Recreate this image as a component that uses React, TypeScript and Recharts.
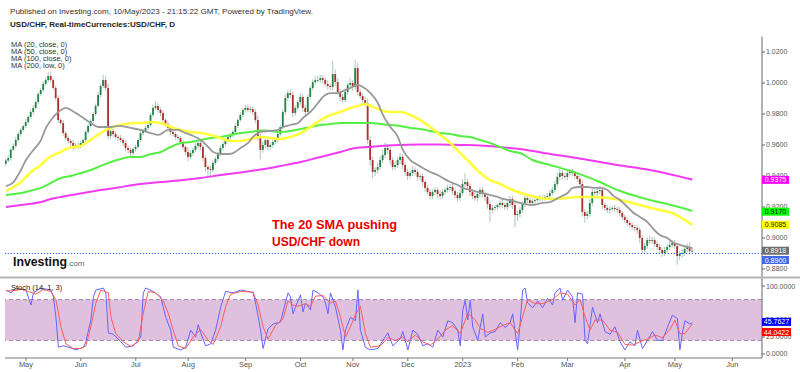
import React from "react";
import {
  ComposedChart,
  Bar,
  Line,
  XAxis,
  YAxis,
  ReferenceLine,
  ReferenceArea
} from "recharts";

// daily USD/CHF candles, 20 Apr 2022 .. 10 May 2023 (trading-day index)
const firstOpen = 0.9478;
const closes = [
  0.95, 0.9516, 0.957, 0.9594, 0.9632, 0.9671, 0.9697, 0.9722, 0.9748, 0.9781,
  0.9813, 0.9839, 0.9877, 0.9929, 0.9955, 0.9994, 1.0019, 1.0045, 1.0019, 0.9968,
  0.9903, 0.9761, 0.9742, 0.9677, 0.9645, 0.9626, 0.9613, 0.9587, 0.96, 0.9594,
  0.9613, 0.9632, 0.9684, 0.9723, 0.9755, 0.98, 0.9852, 0.9923, 0.9981, 1.0019,
  0.9968, 0.9658, 0.969, 0.9671, 0.9652, 0.9645, 0.9632, 0.9613, 0.9581, 0.9568,
  0.9548, 0.9574, 0.9587, 0.9632, 0.9677, 0.969, 0.971, 0.9729, 0.9794, 0.9839,
  0.9852, 0.9826, 0.9806, 0.9761, 0.9735, 0.971, 0.9684, 0.9671, 0.9652, 0.9645,
  0.9619, 0.9587, 0.9555, 0.9523, 0.9548, 0.9568, 0.9594, 0.9613, 0.9587, 0.9516,
  0.9458, 0.9445, 0.9439, 0.9484, 0.951, 0.9542, 0.9581, 0.9606, 0.9632, 0.9652,
  0.9665, 0.9684, 0.9723, 0.9761, 0.9794, 0.9826, 0.9839, 0.9826, 0.9832, 0.9813,
  0.9761, 0.9652, 0.9568, 0.96, 0.9632, 0.9587, 0.96, 0.9619, 0.9632, 0.9671,
  0.9716, 0.9813, 0.9903, 0.9935, 0.9923, 0.9806, 0.9839, 0.9877, 0.991, 0.9839,
  0.9813, 0.991, 0.9968, 1.0006, 1.0019, 1.0019, 1.0032, 1.0019, 0.9994, 0.9981,
  0.9974, 1.0058, 1.0006, 0.9942, 0.991, 0.989, 0.9942, 0.9987, 1.0, 0.9974,
  1.0097, 0.9942, 0.9916, 0.989, 0.9871, 0.9632, 0.9503, 0.9426, 0.9439, 0.9458,
  0.9503, 0.9535, 0.9581, 0.9568, 0.9503, 0.9458, 0.9471, 0.9503, 0.9523, 0.9471,
  0.9426, 0.94, 0.9419, 0.9439, 0.9426, 0.9394, 0.94, 0.9361, 0.9323, 0.9297,
  0.9271, 0.9297, 0.931, 0.9284, 0.9271, 0.9297, 0.931, 0.9323, 0.9329, 0.9303,
  0.9277, 0.9258, 0.929, 0.9348, 0.9361, 0.9335, 0.9297, 0.9271, 0.9258, 0.9284,
  0.931, 0.9284, 0.9265, 0.9219, 0.9181, 0.9194, 0.92, 0.9213, 0.9226, 0.9213,
  0.92, 0.9226, 0.9252, 0.9213, 0.9148, 0.9155, 0.9181, 0.9219, 0.9258, 0.9245,
  0.9226, 0.9239, 0.9245, 0.9252, 0.9258, 0.9258, 0.9265, 0.9271, 0.929, 0.931,
  0.9348, 0.9394, 0.9419, 0.94, 0.9394, 0.9419, 0.9426, 0.9419, 0.94, 0.9381,
  0.9348, 0.9168, 0.9142, 0.9155, 0.9226, 0.9297, 0.929, 0.9303, 0.931, 0.9213,
  0.9194, 0.9181, 0.9187, 0.9194, 0.9187, 0.9181, 0.9161, 0.9135, 0.9116, 0.9097,
  0.9084, 0.9071, 0.9065, 0.9052, 0.9, 0.8923, 0.8948, 0.8987, 0.8981, 0.8987,
  0.8961, 0.8942, 0.8923, 0.8903, 0.8923, 0.8942, 0.8955, 0.8968, 0.8948, 0.8884,
  0.8897, 0.8903, 0.8929, 0.8942, 0.8916, 0.8918
];
// wick lengths beyond the body, in pips
const wickUp = [
  12, 18, 10, 15, 20, 12, 14, 10, 18, 12, 15, 20, 10, 14, 12, 18, 16, 25, 22, 15,
  14, 18, 15, 20, 12, 16, 14, 22, 15, 18, 12, 10, 14, 16, 12, 10, 15, 18, 12, 33,
  25, 30, 20, 15, 18, 12, 20, 15, 18, 14, 16, 12, 14, 10, 18, 15, 12, 20, 14, 22,
  30, 18, 15, 20, 12, 16, 14, 18, 12, 15, 14, 16, 12, 28, 20, 15, 18, 25, 20, 14,
  16, 12, 18, 15, 14, 12, 16, 18, 12, 14, 15, 12, 16, 14, 18, 15, 20, 22, 18, 16,
  18, 30, 20, 22, 14, 18, 16, 15, 14, 12, 14, 16, 22, 18, 25, 20, 16, 14, 22, 18,
  20, 16, 14, 18, 25, 28, 22, 20, 18, 24, 15, 85, 30, 25, 20, 18, 22, 16, 30, 20,
  50, 35, 20, 18, 22, 30, 25, 20, 18, 30, 22, 32, 35, 25, 18, 20, 22, 18, 25, 20,
  18, 20, 15, 22, 18, 20, 16, 18, 14, 20, 18, 16, 20, 15, 22, 18, 16, 20, 18, 22,
  16, 20, 25, 30, 58, 20, 16, 18, 22, 20, 18, 20, 16, 22, 18, 20, 16, 15, 18, 20,
  16, 22, 20, 18, 20, 22, 18, 16, 25, 20, 18, 16, 20, 15, 18, 16, 14, 18, 20, 22,
  20, 25, 28, 20, 22, 25, 18, 20, 16, 18, 20, 22, 18, 20, 25, 22, 18, 20, 25, 18,
  16, 20, 18, 15, 20, 16, 18, 14, 16, 18, 15, 16, 14, 18, 16, 20, 22, 18, 25, 20,
  18, 16, 20, 18, 22, 20, 25, 18, 20, 22, 18, 25, 20, 22, 28, 15
];
const wickDown = [
  15, 12, 18, 10, 14, 12, 16, 10, 12, 14, 12, 15, 10, 14, 12, 16, 10, 14, 18, 12,
  16, 20, 14, 18, 16, 15, 20, 18, 14, 22, 16, 14, 12, 15, 10, 14, 12, 10, 16, 14,
  18, 22, 16, 18, 14, 20, 16, 18, 22, 20, 24, 18, 16, 14, 12, 15, 10, 14, 12, 16,
  14, 18, 20, 16, 18, 14, 20, 16, 18, 15, 18, 20, 22, 28, 16, 18, 14, 16, 20, 22,
  30, 45, 40, 18, 14, 16, 12, 15, 14, 16, 14, 16, 12, 14, 10, 15, 18, 16, 20, 18,
  22, 25, 60, 18, 20, 25, 18, 16, 15, 18, 14, 12, 16, 20, 18, 28, 18, 16, 20, 25,
  22, 18, 16, 14, 18, 15, 20, 22, 18, 24, 20, 22, 25, 20, 28, 18, 16, 20, 22, 25,
  18, 22, 20, 18, 22, 25, 35, 40, 25, 22, 18, 20, 22, 25, 30, 22, 18, 20, 25, 28,
  22, 25, 18, 20, 22, 25, 20, 22, 25, 20, 22, 18, 20, 25, 22, 18, 20, 16, 22, 25,
  20, 22, 18, 16, 20, 22, 25, 20, 18, 22, 20, 22, 25, 30, 80, 22, 20, 18, 22, 20,
  22, 18, 20, 25, 78, 40, 22, 18, 20, 22, 20, 18, 22, 16, 18, 20, 18, 16, 14, 16,
  18, 16, 20, 22, 18, 20, 16, 22, 18, 20, 25, 30, 45, 22, 18, 20, 16, 20, 22, 25,
  20, 18, 22, 16, 20, 18, 22, 20, 18, 22, 20, 18, 22, 25, 30, 25, 22, 18, 20, 22,
  18, 20, 22, 25, 20, 18, 22, 20, 18, 55, 25, 22, 18, 20, 22, 15
];

// moving averages: [trading-day index, value]
const ma20 = [
  [0, 0.9335], [3, 0.9361], [6, 0.9439], [8, 0.9503], [11, 0.9568], [14, 0.9632], [16, 0.971],
  [19, 0.9781], [22, 0.9826], [24, 0.9839], [26, 0.9826], [28, 0.9806], [31, 0.9774], [34, 0.9742],
  [37, 0.9716], [42, 0.9716], [45, 0.9723], [50, 0.971], [54, 0.9697], [58, 0.9677], [61, 0.9665],
  [65, 0.9697], [69, 0.9697], [71, 0.9684], [74, 0.9665], [78, 0.9632], [81, 0.9587], [83, 0.9555],
  [86, 0.9542], [89, 0.9542], [91, 0.9548], [94, 0.9581], [97, 0.9613], [99, 0.9652], [102, 0.9684],
  [105, 0.969], [109, 0.9697], [111, 0.9716], [114, 0.9729], [117, 0.9742], [119, 0.9774], [122, 0.9813],
  [125, 0.9871], [127, 0.991], [130, 0.9935], [133, 0.9935], [135, 0.9948], [138, 0.9968], [141, 0.9987],
  [143, 0.9974], [146, 0.9935], [149, 0.9871], [151, 0.9794], [154, 0.9716], [157, 0.9652], [159, 0.9568],
  [162, 0.9503], [165, 0.9471], [167, 0.9452], [170, 0.9426], [173, 0.9406], [175, 0.9387], [178, 0.9361],
  [181, 0.9342], [183, 0.9323], [186, 0.931], [189, 0.9297], [191, 0.929], [194, 0.9277], [197, 0.9265],
  [199, 0.9252], [202, 0.9245], [206, 0.9226], [211, 0.9213], [215, 0.9226], [218, 0.9232], [222, 0.9265],
  [225, 0.929], [227, 0.9323], [230, 0.9329], [233, 0.9329], [235, 0.9323], [238, 0.9323], [241, 0.931],
  [243, 0.9277], [246, 0.9245], [249, 0.92], [251, 0.9168], [254, 0.9135], [257, 0.9103], [259, 0.9065],
  [262, 0.9019], [265, 0.9], [267, 0.8974], [270, 0.8955], [273, 0.8942], [275, 0.8935]
];
const ma50 = [
  [0, 0.9303], [3, 0.9329], [6, 0.9361], [8, 0.9394], [11, 0.9439], [14, 0.9471], [16, 0.9503],
  [19, 0.9535], [22, 0.9555], [24, 0.9574], [27, 0.9587], [30, 0.9594], [32, 0.9613], [35, 0.9645],
  [38, 0.9677], [40, 0.9697], [43, 0.9716], [46, 0.9729], [48, 0.9735], [51, 0.9742], [54, 0.9742],
  [58, 0.9748], [62, 0.9742], [66, 0.9716], [70, 0.9697], [74, 0.9684], [78, 0.9677], [82, 0.9665],
  [86, 0.9645], [90, 0.9626], [94, 0.9626], [98, 0.9639], [102, 0.9652], [106, 0.9645], [110, 0.9639],
  [114, 0.9652], [118, 0.9677], [122, 0.9716], [126, 0.9761], [130, 0.9794], [134, 0.9813], [138, 0.9839],
  [141, 0.9852], [144, 0.9865], [147, 0.9845], [150, 0.9826], [154, 0.9813], [158, 0.9813], [162, 0.9794],
  [166, 0.9761], [170, 0.9716], [174, 0.9665], [178, 0.9613], [182, 0.9548], [186, 0.9484], [190, 0.9419],
  [194, 0.9374], [198, 0.9348], [203, 0.931], [209, 0.9277], [214, 0.9258], [219, 0.9252], [225, 0.9258],
  [230, 0.9265], [235, 0.9265], [241, 0.9258], [246, 0.9245], [251, 0.9226], [257, 0.92], [262, 0.9181],
  [267, 0.9161], [271, 0.9125], [275, 0.9085]
];
const ma100 = [
  [0, 0.9277], [6, 0.929], [11, 0.931], [14, 0.9323], [18, 0.9355], [22, 0.9387], [26, 0.94],
  [30, 0.9419], [34, 0.9439], [38, 0.9465], [42, 0.949], [46, 0.951], [50, 0.9523], [54, 0.9523],
  [58, 0.9542], [62, 0.9555], [66, 0.9587], [70, 0.9613], [74, 0.9619], [78, 0.9632], [82, 0.9645],
  [86, 0.9652], [90, 0.9665], [94, 0.9677], [98, 0.9684], [102, 0.9694], [106, 0.969], [110, 0.9684],
  [114, 0.969], [118, 0.9703], [122, 0.9716], [126, 0.9729], [130, 0.9735], [134, 0.9742], [138, 0.9742],
  [142, 0.9742], [146, 0.9742], [150, 0.9735], [154, 0.9729], [158, 0.9723], [162, 0.971], [166, 0.9703],
  [170, 0.969], [174, 0.9677], [178, 0.9671], [182, 0.9658], [186, 0.9652], [190, 0.9632], [194, 0.9613],
  [198, 0.9587], [202, 0.9561], [206, 0.9548], [211, 0.9503], [218, 0.9471], [225, 0.9439], [231, 0.9406],
  [238, 0.9361], [245, 0.931], [251, 0.9277], [258, 0.9245], [265, 0.9219], [271, 0.9194], [275, 0.9174]
];
const ma200 = [
  [0, 0.92], [6, 0.9213], [14, 0.9232], [18, 0.9252], [24, 0.9271], [31, 0.929], [38, 0.931],
  [45, 0.9326], [51, 0.9342], [58, 0.9355], [65, 0.9365], [71, 0.9374], [78, 0.9387], [86, 0.9406],
  [94, 0.9423], [102, 0.9442], [110, 0.9465], [118, 0.949], [126, 0.9523], [134, 0.9555], [139, 0.9577],
  [145, 0.9587], [150, 0.9594], [158, 0.96], [166, 0.9603], [174, 0.9603], [182, 0.96], [190, 0.9597],
  [198, 0.9587], [206, 0.9574], [218, 0.9542], [231, 0.951], [245, 0.9471], [258, 0.9439], [275, 0.9377]
];

// stochastic (14, 1, 3): [index, value]
const stochK = [
  [0, 94], [2, 90], [4, 97], [8, 94], [10, 72], [11, 90], [14, 97], [18, 94], [19, 84], [20, 54],
  [21, 10], [23, 12], [26, 9], [28, 6], [31, 10], [32, 18], [34, 50], [35, 84], [36, 94], [39, 97],
  [40, 90], [41, 31], [43, 29], [46, 18], [48, 10], [51, 12], [54, 25], [55, 90], [56, 97], [59, 92],
  [62, 84], [63, 69], [64, 54], [66, 35], [67, 10], [70, 6], [72, 10], [74, 35], [76, 25], [77, 43],
  [78, 31], [80, 12], [82, 15], [84, 35], [86, 69], [88, 92], [91, 90], [94, 94], [97, 92], [99, 90],
  [100, 75], [102, 35], [103, 8], [105, 37], [107, 44], [110, 47], [111, 62], [113, 90], [114, 84], [115, 59],
  [116, 69], [118, 87], [119, 62], [120, 75], [122, 65], [123, 94], [125, 90], [127, 84], [128, 75], [129, 59],
  [130, 90], [132, 69], [134, 35], [135, 6], [136, 35], [138, 54], [140, 49], [141, 94], [142, 35], [144, 10],
  [146, 6], [149, 8], [151, 20], [153, 31], [155, 12], [158, 23], [159, 33], [161, 6], [163, 35], [165, 29],
  [167, 12], [169, 15], [171, 10], [173, 35], [175, 25], [177, 49], [179, 46], [181, 35], [182, 12], [183, 64],
  [184, 79], [185, 50], [186, 79], [187, 40], [189, 20], [191, 59], [192, 25], [194, 31], [196, 33], [198, 46],
  [200, 39], [202, 46], [203, 59], [205, 6], [206, 46], [207, 94], [208, 97], [209, 75], [211, 68], [213, 78],
  [215, 68], [217, 82], [219, 72], [220, 90], [222, 97], [223, 79], [225, 94], [227, 84], [228, 46], [229, 90],
  [231, 88], [232, 20], [233, 15], [235, 69], [237, 46], [238, 59], [240, 33], [242, 29], [244, 40], [246, 18],
  [248, 6], [250, 18], [252, 12], [253, 35], [255, 8], [257, 20], [259, 33], [261, 20], [263, 20], [265, 39],
  [267, 57], [269, 52], [270, 6], [271, 31], [272, 49], [274, 44], [275, 46]
];
const stochD = [
  [0, 93], [3, 93], [6, 95], [9, 92], [12, 88], [15, 95], [18, 92], [20, 80], [22, 40], [24, 15],
  [27, 8], [30, 8], [32, 12], [34, 40], [36, 75], [38, 94], [41, 90], [42, 55], [44, 30], [47, 18],
  [50, 11], [53, 18], [55, 60], [57, 92], [60, 90], [63, 78], [65, 60], [67, 35], [69, 12], [72, 8],
  [75, 25], [78, 36], [81, 20], [83, 14], [86, 40], [88, 70], [90, 88], [94, 92], [99, 91], [101, 72],
  [103, 40], [105, 22], [108, 42], [111, 52], [113, 78], [115, 72], [117, 70], [120, 74], [122, 70], [124, 85],
  [127, 86], [130, 75], [132, 78], [134, 55], [136, 25], [138, 40], [140, 58], [142, 70], [144, 30], [146, 10],
  [150, 12], [153, 24], [156, 20], [159, 25], [161, 18], [164, 28], [167, 18], [170, 13], [173, 22], [176, 35],
  [179, 42], [182, 30], [185, 60], [188, 50], [190, 38], [193, 32], [196, 36], [199, 42], [202, 46], [205, 30],
  [207, 55], [209, 80], [212, 74], [215, 74], [219, 80], [222, 90], [225, 88], [228, 72], [230, 80], [232, 55],
  [234, 35], [236, 50], [239, 50], [242, 35], [245, 32], [248, 14], [251, 13], [254, 18], [257, 22], [260, 28],
  [263, 24], [266, 36], [268, 50], [270, 30], [272, 30], [275, 44]
];

const monthTicks = [8, 30, 52, 73, 96, 118, 139, 161, 183, 205, 225, 248, 268, 291];
const monthLabels = ["May", "Jun", "Jul", "Aug", "Sep", "Oct", "Nov", "Dec", "2023", "Feb", "Mar", "Apr", "May", "Jun"];
const priceTicks = [0.88, 0.9, 0.92, 0.94, 0.96, 0.98, 1.0, 1.02];
const stochTicks = [0, 25, 50, 100];
const maLast = [0.9375, 0.917, 0.9085];
const lastClose = 0.8918;
const levelLine = 0.89;
const stochLast = [45.7627, 44.0422];

const FONT = "'Liberation Sans', Arial, sans-serif";
const X_DOMAIN: [number, number] = [-0.4, 302.9];
const PRICE_DOMAIN: [number, number] = [0.875, 1.03];
const STOCH_DOMAIN: [number, number] = [-5.9, 111.8];
const MAIN_MARGIN = { top: 36.5, right: 0, bottom: 1.25, left: 5 };
const STOCH_MARGIN = { top: 0, right: 0, bottom: 14, left: 5 };

const candles = closes.map((c, i) => {
  const o = i === 0 ? firstOpen : closes[i - 1];
  const high = Math.max(o, c) + wickUp[i] / 10000;
  const low = Math.min(o, c) - wickDown[i] / 10000;
  return { x: i, open: o, close: c, high, low, range: [low, high] };
});

const toPoints = (arr: number[][]) => arr.map(([x, v]) => ({ x, v }));

const Candle = (props: any) => {
  const { x, y, width, height, payload } = props;
  if (!payload) return null;
  const { open, close, high, low } = payload;
  const top = Math.min(y, y + height);
  const h = Math.abs(height);
  const ppu = h / (high - low);
  const cx = x + width / 2;
  const bodyTop = top + (high - Math.max(open, close)) * ppu;
  const bodyH = Math.max(Math.abs(close - open) * ppu, 0.8);
  const up = close >= open;
  return (
    <g>
      <line x1={cx} x2={cx} y1={top} y2={top + h} stroke="#a7bdb1" strokeWidth={0.9} />
      <rect x={cx - 0.9} y={bodyTop} width={1.8} height={bodyH} fill={up ? "#23834a" : "#ae2f2b"} />
    </g>
  );
};

const Tag = (props: any) => {
  const { viewBox, text, bg, fg, dy = 0, w = 27 } = props;
  if (!viewBox) return null;
  const x = viewBox.x + viewBox.width;
  const y = viewBox.y + dy;
  return (
    <g>
      <rect x={x} y={y - 4} width={w} height={8} fill={bg} />
      <text x={x + w / 2} y={y + 2.5} textAnchor="middle" fontSize={7} fill={fg} fontFamily={FONT}>
        {text}
      </text>
    </g>
  );
};

const axisTick = { fontSize: 7, fill: "#555", fontFamily: FONT };

// a transparent chart on top of a pane, used only for the value tags on the axis
const TagLayer = ({ margin, height, domain, children }: any) => (
  <ComposedChart width={800} height={height} margin={margin}>
    <XAxis dataKey="x" type="number" domain={X_DOMAIN} allowDataOverflow hide />
    <YAxis
      orientation="right"
      width={38}
      domain={domain}
      allowDataOverflow
      tick={false}
      tickLine={false}
      axisLine={false}
    />
    {children}
  </ComposedChart>
);

export default function App() {
  return (
    <div
      style={{
        position: "absolute",
        left: 0,
        top: 0,
        width: 800,
        height: 372,
        overflow: "hidden",
        background: "#fff"
      }}
    >
      <div style={{ position: "absolute", left: 0, top: 0 }}>
        <ComposedChart width={800} height={278} data={candles} margin={MAIN_MARGIN}>
          <XAxis dataKey="x" type="number" domain={X_DOMAIN} allowDataOverflow hide />
          <YAxis
            orientation="right"
            width={38}
            domain={PRICE_DOMAIN}
            allowDataOverflow
            ticks={priceTicks}
            tickFormatter={(v: number) => v.toFixed(4)}
            tick={axisTick}
            tickSize={3}
            tickMargin={1}
            axisLine={{ stroke: "#666" }}
            tickLine={{ stroke: "#666" }}
          />
          <ReferenceLine y={levelLine} stroke="#2f66ff" strokeWidth={1.2} strokeDasharray="1.2 1.8" />
          <Bar dataKey="range" barSize={2} shape={<Candle />} isAnimationActive={false} />
          <Line data={toPoints(ma200)} dataKey="v" type="monotone" stroke="#f03cf0" strokeWidth={2} dot={false} isAnimationActive={false} />
          <Line data={toPoints(ma100)} dataKey="v" type="monotone" stroke="#55ee44" strokeWidth={2} dot={false} isAnimationActive={false} />
          <Line data={toPoints(ma50)} dataKey="v" type="monotone" stroke="#ffff3c" strokeWidth={2.6} dot={false} isAnimationActive={false} />
          <Line data={toPoints(ma20)} dataKey="v" type="monotone" stroke="#999999" strokeWidth={1.8} dot={false} isAnimationActive={false} />
        </ComposedChart>
      </div>
      <div style={{ position: "absolute", left: 0, top: 0 }}>
        <TagLayer margin={MAIN_MARGIN} height={278} domain={PRICE_DOMAIN}>
          <ReferenceLine y={maLast[0]} stroke="none" label={<Tag text={maLast[0].toFixed(4)} bg="#ff00ff" fg="#ffffff" />} />
          <ReferenceLine y={maLast[1]} stroke="none" label={<Tag text={maLast[1].toFixed(4)} bg="#00ff00" fg="#111111" />} />
          <ReferenceLine y={maLast[2]} stroke="none" label={<Tag text={maLast[2].toFixed(4)} bg="#ffff00" fg="#222222" />} />
          <ReferenceLine y={lastClose} stroke="none" label={<Tag text={lastClose.toFixed(4)} bg="#6e6e6e" fg="#ffffff" />} />
          <ReferenceLine y={levelLine} stroke="none" label={<Tag text={levelLine.toFixed(4)} bg="#4169e1" fg="#ffffff" dy={6.5} />} />
        </TagLayer>
      </div>

      <div style={{ position: "absolute", left: 0, top: 278 }}>
        <ComposedChart width={800} height={94} margin={{ top: 0, right: 0, bottom: 0, left: 5 }}>
          <XAxis
            dataKey="x"
            type="number"
            domain={X_DOMAIN}
            allowDataOverflow
            ticks={monthTicks}
            interval={0}
            tickFormatter={(v: number) => monthLabels[monthTicks.indexOf(v)] ?? ""}
            tick={{ fontSize: 7.5, fill: "#555", fontFamily: FONT }}
            tickSize={3}
            tickMargin={1}
            height={14}
            axisLine={{ stroke: "#777" }}
            tickLine={{ stroke: "#777" }}
          />
          <YAxis
            orientation="right"
            width={38}
            domain={STOCH_DOMAIN}
            allowDataOverflow
            ticks={stochTicks}
            tickFormatter={(v: number) => v.toFixed(4)}
            tick={axisTick}
            tickSize={3}
            tickMargin={1}
            axisLine={{ stroke: "#666" }}
            tickLine={{ stroke: "#666" }}
          />
          <ReferenceArea y1={20} y2={80} fill="#dfc0df" fillOpacity={1} stroke="none" />
          <ReferenceLine y={80} stroke="#9a8a9a" strokeDasharray="4 3" />
          <ReferenceLine y={20} stroke="#9a8a9a" strokeDasharray="4 3" />
          <Line data={toPoints(stochK)} dataKey="v" type="linear" stroke="#6464ff" strokeWidth={1} dot={false} isAnimationActive={false} />
          <Line data={toPoints(stochD)} dataKey="v" type="linear" stroke="#ff5c5c" strokeWidth={1} dot={false} isAnimationActive={false} />
        </ComposedChart>
      </div>
      <div style={{ position: "absolute", left: 0, top: 278 }}>
        <TagLayer margin={STOCH_MARGIN} height={94} domain={STOCH_DOMAIN}>
          <ReferenceLine y={stochLast[0]} stroke="none" label={<Tag text={stochLast[0].toFixed(4)} bg="#0000ff" fg="#ffffff" w={29} dy={-1} />} />
          <ReferenceLine y={stochLast[1]} stroke="none" label={<Tag text={stochLast[1].toFixed(4)} bg="#ff0000" fg="#ffffff" w={29} dy={8} />} />
        </TagLayer>
      </div>

      <svg
        width={800}
        height={372}
        style={{ position: "absolute", left: 0, top: 0, pointerEvents: "none" }}
        fontFamily={FONT}
      >
        <text x={10} y={14} fontSize={7.5} fill="#333" textLength={303} lengthAdjust="spacingAndGlyphs">
          Published on Investing.com, 10/May/2023 - 21:15:22 GMT, Powered by TradingView.
        </text>
        <text x={10} y={27} fontSize={7.5} fontWeight="bold" fill="#222" textLength={165} lengthAdjust="spacingAndGlyphs">
          USD/CHF, Real-timeCurrencies:USD/CHF, D
        </text>
        <text x={11} y={47} fontSize={7.5} fill="#333">MA (20, close, 0)</text>
        <text x={11} y={54} fontSize={7.5} fill="#333">MA (50, close, 0)</text>
        <text x={11} y={61} fontSize={7.5} fill="#333">MA (100, close, 0)</text>
        <text x={11} y={68} fontSize={7.5} fill="#333">MA (200, low, 0)</text>
        <text x={13} y={266} fontSize={12} fontWeight="bold" fill="#111" textLength={54} lengthAdjust="spacingAndGlyphs">
          Investing
        </text>
        <text x={67} y={266} fontSize={8} fill="#666">.com</text>
        <text x={272} y={229} fontSize={12.5} fontWeight="bold" fill="#e60000" textLength={125} lengthAdjust="spacingAndGlyphs">
          The 20 SMA pushing
        </text>
        <text x={272} y={246} fontSize={12.5} fontWeight="bold" fill="#e60000" textLength={88} lengthAdjust="spacingAndGlyphs">
          USD/CHF down
        </text>
        <line x1={0} x2={800} y1={277.5} y2={277.5} stroke="#b4b4b4" strokeWidth={2} />
        <text x={11} y={290} fontSize={7.5} fill="#222">Stoch (14, 1, 3)</text>
      </svg>
    </div>
  );
}
